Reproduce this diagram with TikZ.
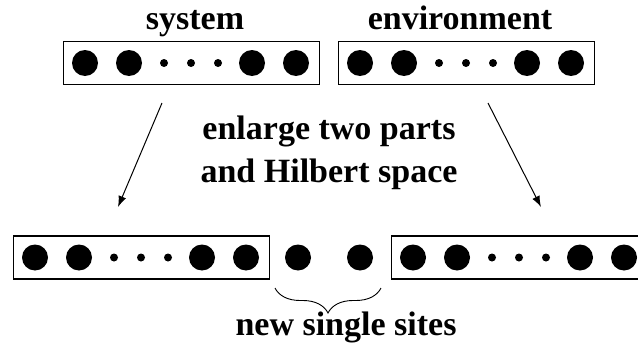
\documentclass[tikz,border=0pt]{standalone}
\usepackage{fontspec}
\setmainfont{Liberation Serif}
\usetikzlibrary{arrows.meta,decorations.pathreplacing}

\tikzset{
	site/.style={circle,fill=black,inner sep=0pt,minimum size=26pt},
	smalldot/.style={circle,fill=black,inner sep=0pt,minimum size=8pt},
	block/.style={draw,line width=1.3pt,minimum width=256pt,minimum height=43pt,inner sep=0pt,anchor=west},
	lbl/.style={font=\bfseries\fontsize{34}{40}\selectfont,anchor=base,inner sep=0pt},
	enlargearrow/.style={line width=1pt,-{Latex[length=11pt,width=8pt]}}
}

\begin{document}
\begin{tikzpicture}[x=1pt,y=-1pt]
	\useasboundingbox (0,0) rectangle (638,348);
	\clip (0,0) rectangle (638,348);

	% blocks with their sites
	\foreach \b/\x/\y in {sys/63/63,env/338/63,lsys/13/257.5,renv/391/257.5} {
		\node[block] (\b) at (\x,\y) {};
		\foreach \dx/\st [count=\i] in {22/site,66/site,101/smalldot,128/smalldot,155/smalldot,189/site,233/site}
			\node[\st] (\b\i) at (\x+\dx,\y) {};
	}
	\node[site] (new1) at (298,257.5) {};
	\node[site] (new2) at (360,257.5) {};

	% labels
	\node[lbl] (tsys) at (195,29) {system};
	\node[lbl] (tenv) at (460,29) {environment};
	\node[lbl] (tmid1) at (329,139) {enlarge two parts};
	\node[lbl] (tmid2) at (329,182) {and Hilbert space};
	\node[lbl] (tnew) at (346,335) {new single sites};

	% arrows
	\coordinate (ls) at (162,103);
	\coordinate (le) at (118,207);
	\coordinate (rs) at (488,103);
	\coordinate (re) at (541,207);
	\draw[enlargearrow] (ls) -- (le);
	\draw[enlargearrow] (rs) -- (re);

	% brace under the new sites
	\coordinate (bl) at (275,288);
	\coordinate (br) at (381,288);
	\draw[line width=0.9pt,decorate,decoration={brace,mirror,amplitude=25pt}] (bl) -- (br);
\end{tikzpicture}
\end{document}
